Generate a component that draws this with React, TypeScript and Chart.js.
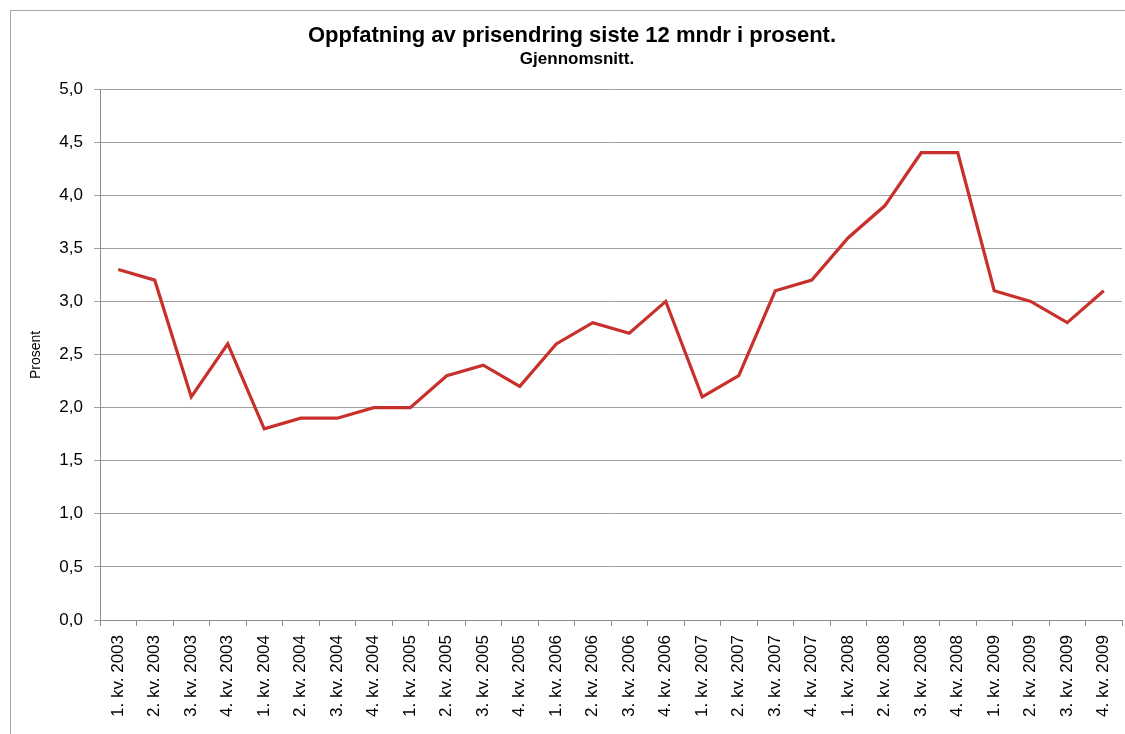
import React, { useEffect, useRef } from "react";
import { Chart, registerables } from "chart.js";

Chart.register(...registerables);

const categories: string[] = [
  "1. kv. 2003", "2. kv. 2003", "3. kv. 2003", "4. kv. 2003",
  "1. kv. 2004", "2. kv. 2004", "3. kv. 2004", "4. kv. 2004",
  "1. kv. 2005", "2. kv. 2005", "3. kv. 2005", "4. kv. 2005",
  "1. kv. 2006", "2. kv. 2006", "3. kv. 2006", "4. kv. 2006",
  "1. kv. 2007", "2. kv. 2007", "3. kv. 2007", "4. kv. 2007",
  "1. kv. 2008", "2. kv. 2008", "3. kv. 2008", "4. kv. 2008",
  "1. kv. 2009", "2. kv. 2009", "3. kv. 2009", "4. kv. 2009",
];

const values: number[] = [
  3.3, 3.2, 2.1, 2.6,
  1.8, 1.9, 1.9, 2.0,
  2.0, 2.3, 2.4, 2.2,
  2.6, 2.8, 2.7, 3.0,
  2.1, 2.3, 3.1, 3.2,
  3.6, 3.9, 4.4, 4.4,
  3.1, 3.0, 2.8, 3.1,
];

const titleText = "Oppfatning av prisendring siste 12 mndr i prosent.";
const subtitleText = "Gjennomsnitt.";
const yAxisTitle = "Prosent";
const yMin = 0;
const yMax = 5;
const yStep = 0.5;

const FONT = "'Liberation Sans', Arial, sans-serif";

export default function App() {
  const ref = useRef<HTMLCanvasElement | null>(null);

  useEffect(() => {
    document.body.style.margin = "0";
    const canvas = ref.current;
    if (!canvas) return;

    const decor = {
      id: "decor",
      beforeDraw(chart: any) {
        const ctx = chart.ctx;
        ctx.save();
        ctx.fillStyle = "#ffffff";
        ctx.fillRect(0, 0, chart.width, chart.height);
        ctx.strokeStyle = "#a6a6a6";
        ctx.lineWidth = 1;
        ctx.strokeRect(10.5, 10.5, 1130, 740);
        ctx.restore();
      },
      afterDraw(chart: any) {
        const ctx = chart.ctx;
        ctx.save();
        ctx.fillStyle = "#000000";
        ctx.textAlign = "center";
        ctx.textBaseline = "middle";
        ctx.font = `bold 22px ${FONT}`;
        ctx.fillText(titleText, 572, 36);
        ctx.font = `bold 17px ${FONT}`;
        ctx.fillText(subtitleText, 577, 59);
        ctx.translate(36, 355);
        ctx.rotate(-Math.PI / 2);
        ctx.font = `14px ${FONT}`;
        ctx.fillText(yAxisTitle, 0, 0);
        ctx.restore();
      },
    };

    const chart = new Chart(canvas, {
      type: "line",
      data: {
        labels: categories,
        datasets: [
          {
            data: values,
            borderColor: "#c8312b",
            backgroundColor: "#c8312b",
            borderWidth: 3.2,
            pointRadius: 0,
            tension: 0,
            fill: false,
          },
        ],
      },
      options: {
        responsive: false,
        animation: false,
        devicePixelRatio: 1,
        layout: { padding: { top: 89, right: 3, left: 0, bottom: 0 } },
        plugins: {
          legend: { display: false },
          title: { display: false },
          tooltip: { enabled: false },
        },
        scales: {
          x: {
            type: "category",
            offset: true,
            grid: {
              display: true,
              offset: true,
              drawOnChartArea: false,
              drawTicks: true,
              tickLength: 6,
              color: "#8c8c8c",
            },
            border: { display: true, color: "#8c8c8c", width: 1 },
            ticks: {
              autoSkip: false,
              minRotation: 90,
              maxRotation: 90,
              padding: 9,
              color: "#000000",
              font: { family: FONT, size: 17 },
            },
            afterFit(scale: any) {
              scale.height = 114;
              scale.paddingRight = 0;
              scale.paddingLeft = 0;
            },
          },
          y: {
            min: yMin,
            max: yMax,
            grid: {
              color: "#a0a0a0",
              lineWidth: 1,
              drawTicks: true,
              tickLength: 6,
            },
            border: { display: true, color: "#8c8c8c", width: 1 },
            ticks: {
              stepSize: yStep,
              padding: 11,
              color: "#000000",
              font: { family: FONT, size: 17 },
              callback: (v: any) => Number(v).toFixed(1).replace(".", ","),
            },
            afterFit(scale: any) {
              scale.width = 100;
            },
          },
        },
      },
      plugins: [decor],
    });

    return () => chart.destroy();
  }, []);

  return (
    <div style={{ width: 1125, height: 734 }}>
      <canvas ref={ref} width={1125} height={734} style={{ display: "block" }} />
    </div>
  );
}
